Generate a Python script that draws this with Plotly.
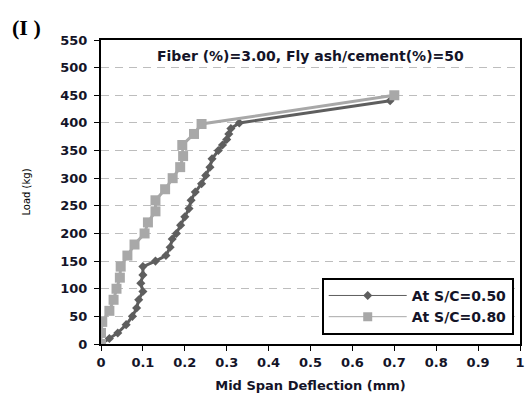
import plotly.graph_objects as go

# Series: S/C = 0.50 (dark, diamonds)
defl_050 = [0.0, 0.02, 0.04, 0.06, 0.075, 0.085, 0.09, 0.10, 0.095, 0.10, 0.10, 0.13, 0.155,
            0.165, 0.17, 0.18, 0.19, 0.20, 0.21, 0.215, 0.225, 0.24, 0.25, 0.26, 0.265, 0.28,
            0.29, 0.30, 0.305, 0.31, 0.33, 0.69]
load_050 = [0, 10, 20, 35, 50, 65, 80, 95, 110, 125, 140, 150, 160,
            175, 190, 200, 215, 230, 245, 260, 275, 290, 305, 320, 335, 350,
            360, 370, 380, 390, 400, 440]

# Series: S/C = 0.80 (light, squares)
defl_080 = [0.0, 0.0, 0.003, 0.02, 0.03, 0.037, 0.045, 0.047, 0.063, 0.08, 0.104, 0.112,
            0.13, 0.13, 0.153, 0.171, 0.189, 0.196, 0.194, 0.222, 0.24, 0.70]
load_080 = [0, 20, 40, 60, 80, 100, 120, 140, 160, 180, 200, 220,
            240, 260, 280, 300, 320, 340, 360, 380, 398, 450]

series_names = ["At S/C=0.50", "At S/C=0.80"]

x_ticks = [0, 0.1, 0.2, 0.3, 0.4, 0.5, 0.6, 0.7, 0.8, 0.9, 1]
x_labels = ["0", "0.1", "0.2", "0.3", "0.4", "0.5", "0.6", "0.7", "0.8", "0.9", "1"]
y_ticks = list(range(0, 551, 50))

DARK = "#5e5e5e"
LIGHT = "#a8a8a8"
TXT = "#141428"
BOLD = dict(family="DejaVu Sans", size=13, color=TXT, weight="bold")

fig = go.Figure()
fig.add_trace(go.Scatter(
    x=defl_050, y=load_050, mode="lines+markers", name=series_names[0],
    line=dict(color=DARK, width=3), showlegend=False, legendgroup="a",
    marker=dict(symbol="diamond", size=7, color=DARK),
))
fig.add_trace(go.Scatter(
    x=defl_080, y=load_080, mode="lines+markers", name=series_names[1],
    line=dict(color=LIGHT, width=3), showlegend=False, legendgroup="b",
    marker=dict(symbol="square", size=10, color=LIGHT),
))
# legend entries (thin sample lines, as in the original legend)
fig.add_trace(go.Scatter(
    x=[None], y=[None], mode="lines+markers", name=series_names[0], legendgroup="a",
    line=dict(color=DARK, width=1), marker=dict(symbol="diamond", size=7, color=DARK),
))
fig.add_trace(go.Scatter(
    x=[None], y=[None], mode="lines+markers", name=series_names[1], legendgroup="b",
    line=dict(color=LIGHT, width=1), marker=dict(symbol="square", size=9, color=LIGHT),
))

fig.update_layout(
    width=530, height=401,
    margin=dict(l=101, r=5, t=40, b=57),
    paper_bgcolor="white", plot_bgcolor="white",
    showlegend=True,
    legend=dict(
        x=0.985, xanchor="right", y=0.03, yanchor="bottom",
        bgcolor="white", bordercolor="black", borderwidth=2,
        font=dict(family="DejaVu Sans", size=14, color=TXT, weight="bold"),
        tracegroupgap=0, itemwidth=78,
    ),
    xaxis=dict(
        range=[0, 1], tickvals=x_ticks, ticktext=x_labels,
        showgrid=False, zeroline=False,
        showline=True, linecolor="black", linewidth=2, mirror=True,
        ticks="outside", ticklen=5, tickcolor="black", tickwidth=1,
        tickfont=BOLD,
        title=dict(text="Mid Span Deflection (mm)", font=BOLD, standoff=12),
    ),
    yaxis=dict(
        range=[0, 550], tickvals=y_ticks,
        showgrid=True, gridcolor="#bdbdbd", gridwidth=1, griddash="8px,6px",
        zeroline=False,
        showline=True, linecolor="black", linewidth=2, mirror=True,
        ticks="outside", ticklen=5, tickcolor="black", tickwidth=1,
        tickfont=BOLD, ticklabelstandoff=4,
    ),
    annotations=[
        dict(text="Fiber (%)=3.00, Fly ash/cement(%)=50", xref="paper", yref="paper",
             x=0.5, y=0.98, xanchor="center", yanchor="top", showarrow=False,
             font=dict(family="DejaVu Sans", size=14, color=TXT, weight="bold")),
        dict(text="Load (kg)", xref="paper", yref="paper", x=-0.18, y=0.5,
             xanchor="center", yanchor="middle", textangle=-90, showarrow=False,
             font=dict(family="DejaVu Sans", size=10, color="black")),
        dict(text="(I )", xref="paper", yref="paper", x=-0.218, y=1.09,
             xanchor="left", yanchor="top", showarrow=False,
             font=dict(family="Liberation Serif", size=22, color="black", weight="bold")),
    ],
)

fig.write_html("out.html")
